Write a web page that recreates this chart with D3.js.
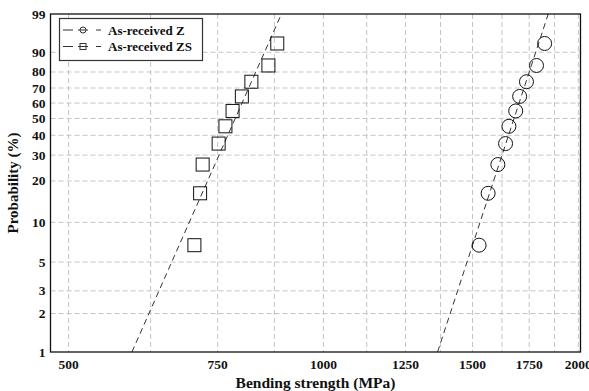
<!DOCTYPE html>
<html>
<head>
<meta charset="utf-8">
<script src="https://cdn.jsdelivr.net/npm/d3@7/dist/d3.min.js"></script>
<style>
  body { margin: 0; background: #fff; }
  svg text { font-family: "Liberation Serif", "Times New Roman", serif; font-weight: bold; fill: #111; }
</style>
</head>
<body>
<svg width="589" height="391"></svg>
<script>
// probability (median rank, %) shared by both series
var probs = [6.73, 16.35, 25.96, 35.58, 45.19, 54.81, 64.42, 74.04, 83.65, 93.27];

var strengthZ  = [1527, 1565, 1607, 1641, 1656, 1687, 1705, 1737, 1785, 1825];
var strengthZS = [704, 715, 720, 752, 766, 781, 801, 822, 861, 882];

// fitted Weibull lines: [strength, probability %] end points
var fitZ  = [[1364, 1], [1843, 99]];
var fitZS = [[594, 1], [892, 99]];

var xTicks = [500, 750, 1000, 1250, 1500, 1750, 2000];
var xGrid = [500, 625, 750, 875, 1000, 1125, 1250, 1375, 1500, 1625, 1750, 1875, 2000];
var yTicks = [1, 2, 3, 5, 10, 20, 30, 40, 50, 60, 70, 80, 90, 99];

var svg = d3.select('svg');
var plot = {l: 50.5, r: 580.5, t: 14, b: 352};

var x = d3.scaleLog()
  .domain([476, 2012])
  .range([plot.l, plot.r]);

// Weibull probability axis: ln(-ln(1-F))
function weib(p) { return Math.log(-Math.log(1 - p / 100)); }
var yLin = d3.scaleLinear()
  .domain([weib(1), weib(99)])
  .range([plot.b, plot.t]);
var y = function(p) { return yLin(weib(p)); };

svg.append('clipPath').attr('id', 'clip')
  .append('rect')
  .attr('x', plot.l).attr('y', plot.t)
  .attr('width', plot.r - plot.l).attr('height', plot.b - plot.t);

// grid
var grid = svg.append('g');
grid.selectAll('.vg').data(xGrid).enter().append('line')
  .attr('x1', function(d) { return x(d); }).attr('x2', function(d) { return x(d); })
  .attr('y1', plot.t).attr('y2', plot.b)
  .attr('stroke', '#c4c4c4').attr('stroke-dasharray', '5,3');
grid.selectAll('.hg').data(yTicks.slice(1, -1)).enter().append('line')
  .attr('x1', plot.l).attr('x2', plot.r)
  .attr('y1', function(d) { return y(d); }).attr('y2', function(d) { return y(d); })
  .attr('stroke', '#c4c4c4').attr('stroke-dasharray', '5,3');

// fit lines
var line = d3.line()
  .x(function(d) { return x(d[0]); })
  .y(function(d) { return y(d[1]); });

var fits = svg.append('g').attr('clip-path', 'url(#clip)');
[fitZ, fitZS].forEach(function(f) {
  fits.append('path').attr('d', line(f))
    .attr('fill', 'none').attr('stroke', '#333')
    .attr('stroke-width', 1).attr('stroke-dasharray', '6,4');
});

// markers
svg.append('g').selectAll('circle').data(strengthZ).enter().append('circle')
  .attr('cx', function(d) { return x(d); })
  .attr('cy', function(d, i) { return y(probs[i]); })
  .attr('r', 7)
  .attr('fill', 'none').attr('stroke', '#111').attr('stroke-width', 1);

svg.append('g').selectAll('rect').data(strengthZS).enter().append('rect')
  .attr('x', function(d) { return x(d) - 6.5; })
  .attr('y', function(d, i) { return y(probs[i]) - 6.5; })
  .attr('width', 13).attr('height', 13)
  .attr('fill', 'none').attr('stroke', '#111').attr('stroke-width', 1);

// frame
svg.append('rect')
  .attr('x', plot.l).attr('y', plot.t)
  .attr('width', plot.r - plot.l).attr('height', plot.b - plot.t)
  .attr('fill', 'none').attr('stroke', '#111').attr('stroke-width', 1.3);

// tick labels
svg.append('g').selectAll('text').data(xTicks).enter().append('text')
  .attr('x', function(d) { return x(d); })
  .attr('y', plot.b + 17)
  .attr('text-anchor', 'middle')
  .attr('font-size', 13.5)
  .text(function(d) { return d; });

svg.append('g').selectAll('text').data(yTicks).enter().append('text')
  .attr('x', plot.l - 5)
  .attr('y', function(d) { return y(d) + 4.5; })
  .attr('text-anchor', 'end')
  .attr('font-size', 13.5)
  .text(function(d) { return d; });

// axis titles
svg.append('text')
  .attr('x', (plot.l + plot.r) / 2).attr('y', 388)
  .attr('text-anchor', 'middle').attr('font-size', 15.5)
  .text('Bending strength (MPa)');

svg.append('text')
  .attr('transform', 'translate(18,' + ((plot.t + plot.b) / 2) + ') rotate(-90)')
  .attr('text-anchor', 'middle').attr('font-size', 15)
  .text('Probability (%)');

// legend
var legend = svg.append('g');
legend.append('rect')
  .attr('x', 59.5).attr('y', 18.5).attr('width', 143).attr('height', 42)
  .attr('fill', '#fff').attr('stroke', '#333').attr('stroke-width', 1.2);

var legendItems = [
  {label: 'As-received Z', shape: 'circle'},
  {label: 'As-received ZS', shape: 'square'}
];
legendItems.forEach(function(d, i) {
  var cy = 30 + i * 16.5;
  var g = legend.append('g');
  g.append('line').attr('x1', 63).attr('x2', 73).attr('y1', cy).attr('y2', cy)
    .attr('stroke', '#333');
  g.append('line').attr('x1', 78).attr('x2', 88).attr('y1', cy).attr('y2', cy)
    .attr('stroke', '#333');
  g.append('line').attr('x1', 96).attr('x2', 101).attr('y1', cy).attr('y2', cy)
    .attr('stroke', '#333');
  if (d.shape === 'circle') {
    g.append('circle').attr('cx', 83).attr('cy', cy).attr('r', 3)
      .attr('fill', 'none').attr('stroke', '#333');
  } else {
    g.append('rect').attr('x', 80).attr('y', cy - 3).attr('width', 6).attr('height', 6)
      .attr('fill', 'none').attr('stroke', '#333');
  }
  g.append('text').attr('x', 108).attr('y', cy + 4.5)
    .attr('font-size', 13).text(d.label);
});
</script>
</body>
</html>
